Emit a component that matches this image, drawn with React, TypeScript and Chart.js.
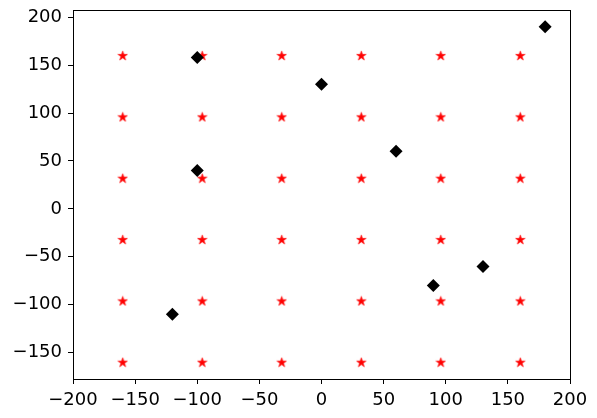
import React, { useEffect, useRef } from "react";
import { Chart, registerables } from "chart.js";

Chart.register(...registerables);

const gridX = [-160, -96, -32, 32, 96, 160];
const gridY = [-160, -96, -32, 32, 96, 160];
const pointsX = [-100, -100, 0, 60, 180, 130, 90, -120];
const pointsY = [158, 40, 130, 60, 190, -60, -80, -110];
const xTicks = [-200, -150, -100, -50, 0, 50, 100, 150, 200];
const yTicks = [-150, -100, -50, 0, 50, 100, 150, 200];

function makeStar(): HTMLCanvasElement {
  const c = document.createElement("canvas");
  const s = 11;
  c.width = s;
  c.height = s;
  const ctx = c.getContext("2d")!;
  const cx = s / 2;
  const cy = s / 2 + 0.4;
  const R = 5;
  const r = R * 0.381966;
  ctx.beginPath();
  for (let i = 0; i < 10; i++) {
    const rad = i % 2 === 0 ? R : r;
    const a = -Math.PI / 2 + (i * Math.PI) / 5;
    const px = cx + rad * Math.cos(a);
    const py = cy + rad * Math.sin(a);
    if (i === 0) ctx.moveTo(px, py);
    else ctx.lineTo(px, py);
  }
  ctx.closePath();
  ctx.fillStyle = "#ff0000";
  ctx.fill();
  ctx.strokeStyle = "#ff0000";
  ctx.lineWidth = 0.6;
  ctx.stroke();
  return c;
}

export default function App() {
  const ref = useRef<HTMLCanvasElement | null>(null);
  useEffect(() => {
    if (!ref.current) return;
    const star = makeStar();
    const starData: { x: number; y: number }[] = [];
    for (const yv of gridY) for (const xv of gridX) starData.push({ x: xv, y: yv });
    const diamondData = pointsX.map((x, i) => ({ x, y: pointsY[i] }));
    const fmt = (v: any) => String(v).replace("-", "\u2212");
    const frame = {
      id: "frame",
      afterDatasetsDraw(chart: any) {
        const { ctx, chartArea } = chart;
        ctx.save();
        ctx.strokeStyle = "#000";
        ctx.lineWidth = 1;
        ctx.strokeRect(
          Math.round(chartArea.left) + 0.5,
          Math.round(chartArea.top) + 0.5,
          Math.round(chartArea.right - chartArea.left),
          Math.round(chartArea.bottom - chartArea.top)
        );
        ctx.restore();
      },
    };
    const chart = new Chart(ref.current, {
      type: "scatter",
      data: {
        datasets: [
          {
            data: diamondData,
            pointStyle: "rectRot",
            pointRadius: 6.5,
            pointHoverRadius: 6.5,
            backgroundColor: "#000",
            borderColor: "#000",
            borderWidth: 0,
          },
          {
            data: starData,
            pointStyle: star as any,
            pointRadius: 5,
            backgroundColor: "#ff0000",
            borderColor: "#ff0000",
          },
        ],
      },
      options: {
        responsive: false,
        animation: false,
        layout: { padding: { top: 10, right: 27, left: 0, bottom: 0 } },
        plugins: { legend: { display: false }, tooltip: { enabled: false } },
        scales: {
          x: {
            type: "linear",
            min: -200,
            max: 200,
            afterBuildTicks: (s: any) => {
              s.ticks = xTicks.map((v) => ({ value: v }));
            },
            afterFit: (s: any) => {
              s.height = 39;
              s.paddingLeft = 0;
              s.paddingRight = 0;
            },
            border: { display: false },
            grid: {
              drawOnChartArea: false,
              drawTicks: true,
              tickLength: 5,
              color: "#000",
              lineWidth: 1,
            },
            ticks: {
              color: "#000",
              font: { family: "DejaVu Sans", size: 18 },
              padding: 6,
              maxRotation: 0,
              autoSkip: false,
              callback: (v: any) => fmt(v),
            },
          },
          y: {
            type: "linear",
            min: -177.5,
            max: 207.5,
            afterBuildTicks: (s: any) => {
              s.ticks = yTicks.map((v) => ({ value: v }));
            },
            afterFit: (s: any) => {
              s.width = 73;
              s.paddingTop = 0;
              s.paddingBottom = 0;
            },
            border: { display: false },
            grid: {
              drawOnChartArea: false,
              drawTicks: true,
              tickLength: 5,
              color: "#000",
              lineWidth: 1,
            },
            ticks: {
              color: "#000",
              font: { family: "DejaVu Sans", size: 18 },
              padding: 6,
              autoSkip: false,
              callback: (v: any) => fmt(v),
            },
          },
        },
      },
      plugins: [frame],
    });
    return () => chart.destroy();
  }, []);
  return (
    <div style={{ position: "fixed", left: 0, top: 0, width: 597, height: 418, background: "#fff" }}>
      <canvas ref={ref} width={597} height={418} style={{ width: 597, height: 418 }} />
    </div>
  );
}
